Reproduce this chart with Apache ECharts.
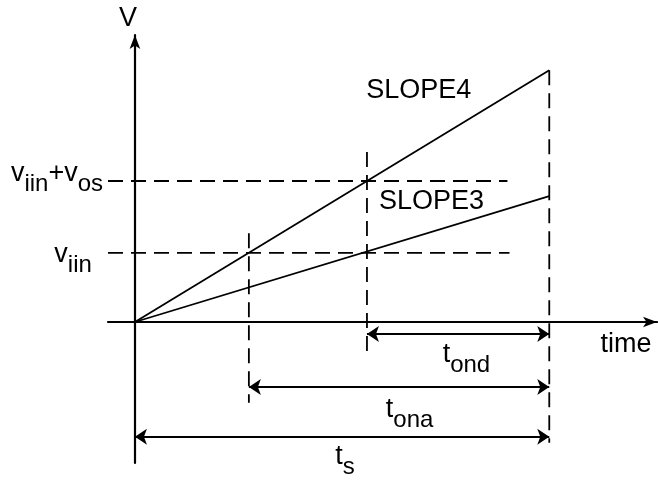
<!DOCTYPE html>
<html>
<head>
<meta charset="utf-8">
<script src="https://cdn.jsdelivr.net/npm/echarts@6/dist/echarts.min.js"></script>
<style>html,body{margin:0;padding:0;background:#fff}#main{width:658px;height:481px}</style>
</head>
<body>
<div id="main"></div>
<script>
// t_s taken as 10 time units, end of SLOPE4 as 10 volt units
var rampTime = [0, 10];
var slope4 = [0, 10];
var slope3 = [0, 5];
var tripTimes = [2.75, 5.6, 10];   // t where v_iin is hit on SLOPE4, v_iin+v_os on SLOPE4, end (t_s)
var levels = [2.75, 5.6];           // v_iin, v_iin+v_os

var ink = '#000';
var font = '"Liberation Sans", Arial, sans-serif';

var myecharts = echarts.init(document.getElementById('main'));

function seg(a, b) { return [a, b]; }

// dashed guides
var dashed = [
    seg([-0.65, levels[0]], [9.04, levels[0]]),
    seg([-0.65, levels[1]], [8.99, levels[1]]),
    seg([tripTimes[0], 3.53], [tripTimes[0], -3.21]),
    seg([tripTimes[1], 6.75], [tripTimes[1], -1.31]),
    seg([tripTimes[2], 10], [tripTimes[2], -4.8])
];

// double arrows t_ond, t_ona, t_s
var spans = [
    [{coord: [tripTimes[1], -0.48]}, {coord: [tripTimes[2], -0.48]}],
    [{coord: [tripTimes[0], -2.58]}, {coord: [tripTimes[2], -2.58]}],
    [{coord: [0, -4.56]}, {coord: [tripTimes[2], -4.56]}]
];

var labels = [
    {value: [5.58, 9.21], label: {formatter: '{m|SLOPE4}', align: 'left'}},
    {value: [5.89, 4.77], label: {formatter: '{m|SLOPE3}', align: 'left'}},
    {value: [11.85, -0.9], label: {formatter: '{m|time}'}},
    {value: [8.0, -1.29], label: {formatter: '{m|t}{s|ond}'}},
    {value: [6.63, -3.47], label: {formatter: '{m|t}{s|ona}'}},
    {value: [5.07, -5.34], label: {formatter: '{m|t}{s|s}'}},
    {value: [-0.77, 5.9], label: {formatter: '{m|v}{s|iin}{m|+v}{s|os}', align: 'right'}},
    {value: [-1.04, 2.68], label: {formatter: '{m|v}{s|iin}', align: 'right'}}
];

var series = [
    {
        name: 'SLOPE4', type: 'line', symbol: 'none',
        lineStyle: {color: ink, width: 1.8},
        data: rampTime.map(function (t, i) { return [t, slope4[i]]; })
    },
    {
        name: 'SLOPE3', type: 'line', symbol: 'none',
        lineStyle: {color: ink, width: 1.8},
        data: rampTime.map(function (t, i) { return [t, slope3[i]]; }),
        markLine: {
            silent: true,
            symbol: ['arrow', 'arrow'],
            symbolSize: 12,
            label: {show: false},
            lineStyle: {color: ink, width: 1.8, type: 'solid'},
            emphasis: {disabled: true},
            data: spans
        }
    },
    {
        type: 'scatter', symbolSize: 0, clip: false, silent: true,
        itemStyle: {opacity: 1},
        label: {
            show: true, position: 'inside', color: ink,
            rich: {
                m: {fontSize: 27, fontFamily: font, color: ink},
                s: {fontSize: 24, fontFamily: font, color: ink, padding: [22, 0, 0, 0]}
            }
        },
        data: labels
    }
];
dashed.forEach(function (d) {
    series.push({
        type: 'line', symbol: 'none', silent: true,
        lineStyle: {color: ink, width: 1.8, type: [15, 8]},
        data: d
    });
});

var option = {
    animation: false,
    grid: {left: 108, right: 1, top: 35, bottom: 18},
    xAxis: {
        type: 'value', min: -0.65, max: 12.6,
        axisLine: {onZero: true, symbol: ['none', 'arrow'], symbolSize: [8, 14], lineStyle: {color: ink, width: 2.2}},
        axisTick: {show: false}, axisLabel: {show: false}, splitLine: {show: false}
    },
    yAxis: {
        type: 'value', min: -5.6, max: 11.4,
        name: 'V', nameLocation: 'end', nameGap: 3,
        nameTextStyle: {fontSize: 27, fontFamily: font, color: ink, padding: [0, 14, 0, 0]},
        axisLine: {onZero: true, symbol: ['none', 'arrow'], symbolSize: [8, 14], lineStyle: {color: ink, width: 2.2}},
        axisTick: {show: false}, axisLabel: {show: false}, splitLine: {show: false}
    },
    series: series
};
myecharts.setOption(option);
</script>
</body>
</html>
